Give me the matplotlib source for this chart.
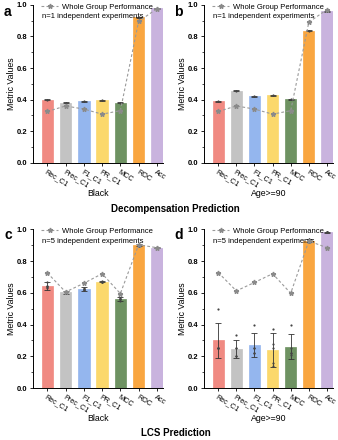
import numpy as np
import matplotlib
matplotlib.use("Agg")
import matplotlib.pyplot as plt
import matplotlib.transforms as mtransforms
from matplotlib.ticker import MultipleLocator

plt.rcParams["font.family"] = ["Liberation Sans", "DejaVu Sans"]

metrics = ["Rec_C1", "Prec_C1", "F1_C1", "PR_C1", "MCC", "ROC", "Acc"]
colors = ["#f08a82", "#c3c3c3", "#94b6ee", "#fbd86c", "#6e9262", "#f9a640", "#c9b3de"]

# panel a: Decompensation, Black
a_mean = [0.398, 0.380, 0.390, 0.395, 0.380, 0.920, 0.978]
a_err = [0.003, 0.003, 0.003, 0.003, 0.003, 0.003, 0.003]
a_whole = [0.325, 0.360, 0.340, 0.308, 0.330, 0.895, 0.975]

# panel b: Decompensation, Age>=90
b_mean = [0.390, 0.455, 0.422, 0.428, 0.402, 0.836, 0.960]
b_err = [0.003, 0.003, 0.003, 0.003, 0.003, 0.003, 0.003]
b_whole = [0.325, 0.360, 0.340, 0.308, 0.330, 0.890, 0.970]

# panel c: LCS, Black
c_mean = [0.643, 0.604, 0.624, 0.670, 0.560, 0.898, 0.885]
c_err = [0.025, 0.010, 0.010, 0.005, 0.012, 0.006, 0.004]
c_points = [
    [0.67, 0.63, 0.64, 0.64, 0.635],
    [0.61, 0.60, 0.60, 0.605, 0.605],
    [0.63, 0.62, 0.62, 0.625, 0.625],
    [0.672, 0.668, 0.67, 0.67, 0.67],
    [0.57, 0.55, 0.56, 0.56, 0.56],
    [0.905, 0.895, 0.898, 0.896, 0.896],
    [0.888, 0.883, 0.885, 0.885, 0.884],
]
c_whole = [0.725, 0.605, 0.660, 0.720, 0.595, 0.902, 0.884]

# panel d: LCS, Age>=90
d_mean = [0.300, 0.247, 0.269, 0.240, 0.260, 0.928, 0.980]
d_err = [0.112, 0.055, 0.075, 0.105, 0.080, 0.010, 0.003]
d_points = [
    [0.50, 0.25, 0.25, 0.25, 0.25],
    [0.333, 0.25, 0.25, 0.20, 0.20],
    [0.40, 0.25, 0.25, 0.222, 0.222],
    [0.375, 0.28, 0.25, 0.14, 0.155],
    [0.40, 0.25, 0.22, 0.22, 0.21],
    [0.94, 0.92, 0.925, 0.93, 0.925],
    [0.98, 0.98, 0.98, 0.98, 0.98],
]
d_whole = [0.727, 0.612, 0.665, 0.720, 0.597, 0.926, 0.884]


def draw_panel(fig, ax, mean, err, whole, group, n_label, points=None):
    x = np.arange(len(metrics))
    ax.bar(x, mean, width=0.62, color=colors, edgecolor=colors, linewidth=0.5, zorder=2)
    ax.errorbar(x, mean, yerr=err, fmt="none", ecolor="#333333",
                elinewidth=0.6, capsize=2.2, capthick=0.6, zorder=3)
    if points is not None:
        for i, pts in enumerate(points):
            ax.scatter(np.full(len(pts), x[i]), pts, s=2.5, color="#444444",
                       zorder=4, linewidths=0)
    else:
        ax.scatter(x, mean, s=2.5, color="#444444", zorder=4, linewidths=0)
    ax.plot(x, whole, linestyle=(0, (2.5, 2)), color="#9a9a9a", linewidth=0.8,
            marker="*", markersize=3.5, markerfacecolor="#8a8a8a",
            markeredgecolor="#8a8a8a", label="Whole Group Performance", zorder=5)

    ax.set_xlim(-0.78, 6.35)
    ax.set_ylim(0, 1.0)
    ax.yaxis.set_major_locator(MultipleLocator(0.2))
    ax.yaxis.set_minor_locator(MultipleLocator(0.1))
    ax.set_xticks(x)
    ax.set_xticklabels(metrics, rotation=-32, ha="left", va="top",
                       rotation_mode="anchor", fontsize=5.2)
    shift = mtransforms.ScaledTranslation(-7 / 100, 0, fig.dpi_scale_trans)
    for lab in ax.get_xticklabels():
        lab.set_transform(lab.get_transform() + shift)
    for lab in ax.get_yticklabels():
        lab.set_fontweight("bold")
        lab.set_fontsize(5.5)
    ax.tick_params(axis="both", direction="out", width=0.6, length=2.5, pad=1.5)
    ax.tick_params(axis="y", which="minor", width=0.5, length=1.5)
    ax.tick_params(axis="x", pad=1.5)
    for s in ["top", "right"]:
        ax.spines[s].set_visible(False)
    for s in ["left", "bottom"]:
        ax.spines[s].set_linewidth(0.7)
    ax.set_ylabel("Metric Values", fontsize=6.3)
    ax.yaxis.set_label_coords(-0.13, 0.5)
    ax.set_xlabel(group, fontsize=6.3)
    ax.xaxis.set_label_coords(0.5, -0.165)
    ax.legend(loc="upper left", frameon=False, fontsize=5.5, handlelength=2.2,
              borderaxespad=0.0, bbox_to_anchor=(0.04, 1.03), handletextpad=0.5)
    ax.text(0.07, 0.925, n_label, transform=ax.transAxes, fontsize=5.5, va="center")


fig = plt.figure(figsize=(3.38, 4.40), dpi=100)

axes_pos = {
    "a": [0.098, 0.630, 0.385, 0.359],
    "b": [0.604, 0.630, 0.382, 0.359],
    "c": [0.098, 0.118, 0.385, 0.361],
    "d": [0.604, 0.118, 0.382, 0.361],
}

ax_a = fig.add_axes(axes_pos["a"])
draw_panel(fig, ax_a, a_mean, a_err, a_whole, "Black", "n=1 independent experiments")
ax_b = fig.add_axes(axes_pos["b"])
draw_panel(fig, ax_b, b_mean, b_err, b_whole, "Age>=90", "n=1 independent experiments")
ax_c = fig.add_axes(axes_pos["c"])
draw_panel(fig, ax_c, c_mean, c_err, c_whole, "Black", "n=5 independent experiments", c_points)
ax_d = fig.add_axes(axes_pos["d"])
draw_panel(fig, ax_d, d_mean, d_err, d_whole, "Age>=90", "n=5 independent experiments", d_points)

fig.text(0.012, 0.972, "a", fontsize=10, fontweight="bold", va="center")
fig.text(0.515, 0.972, "b", fontsize=10, fontweight="bold", va="center")
fig.text(0.012, 0.465, "c", fontsize=10, fontweight="bold", va="center")
fig.text(0.515, 0.465, "d", fontsize=10, fontweight="bold", va="center")

fig.text(0.52, 0.525, "Decompensation Prediction", fontsize=7, fontweight="bold",
         ha="center", va="center")
fig.text(0.52, 0.016, "LCS Prediction", fontsize=7, fontweight="bold",
         ha="center", va="center")

fig.savefig("out.png", dpi=100)
